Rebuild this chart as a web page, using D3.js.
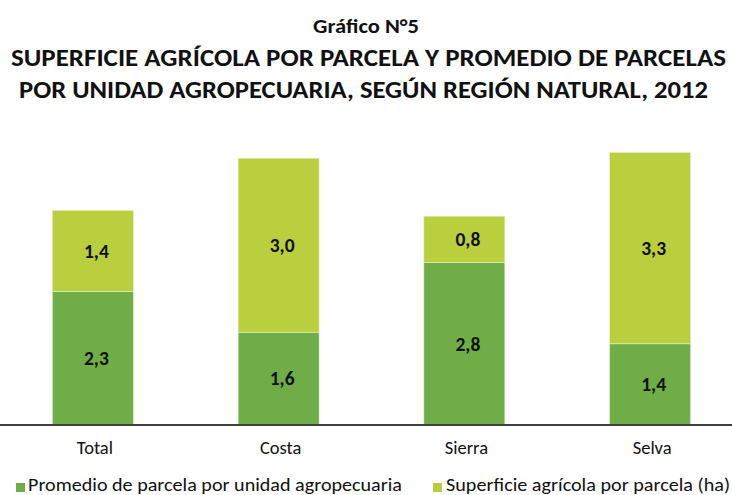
<!DOCTYPE html>
<html><head><meta charset="utf-8">
<script src="https://cdn.jsdelivr.net/npm/d3@7"></script>
<style>body{margin:0;background:#fff}svg{display:block}text{font-family:Carlito,Calibri,Lato,"Open Sans",sans-serif}</style>
</head><body><svg id="c" width="732" height="495"></svg>
<script>
const categories = ["Total","Costa","Sierra","Selva"];
const promedio = [2.3,1.6,2.8,1.4];
const superficie = [1.4,3.0,0.8,3.3];
const seriesNames = ["Promedio de parcela por unidad agropecuaria","Superficie agrícola por parcela (ha)"];
const titleLines = ["Gráfico N°5","SUPERFICIE AGRÍCOLA POR PARCELA Y PROMEDIO DE PARCELAS","POR UNIDAD AGROPECUARIA, SEGÚN REGIÓN NATURAL, 2012"];
const colors = ["#70AD47","#B9CF3D"];

const svg = d3.select("#c");
const baseY = 425;
const x = d3.scaleBand().domain(categories).range([0,743]).paddingInner(0.564).paddingOuter(0.282);
const y = d3.scaleLinear().domain([0,5]).range([baseY, baseY-290]);

const rows = categories.map((c,i)=>({cat:c, promedio:promedio[i], superficie:superficie[i]}));
const stack = d3.stack().keys(["promedio","superficie"])(rows);

const fmt = v => d3.format(".1f")(v).replace(".",",");

stack.forEach((layer,li)=>{
  const g = svg.append("g");
  g.selectAll("rect").data(layer).join("rect")
    .attr("x", d=>x(d.data.cat))
    .attr("width", x.bandwidth())
    .attr("y", d=>y(d[1]))
    .attr("height", d=>y(d[0])-y(d[1]))
    .attr("fill", colors[li])
    .attr("stroke","#e8f0d8").attr("stroke-width",0.6);
  g.selectAll("text").data(layer).join("text")
    .attr("x", d=>x(d.data.cat)+x.bandwidth()/2+3.5)
    .attr("y", d=>(y(d[0])+y(d[1]))/2)
    .attr("dy","0.35em")
    .attr("text-anchor","middle")
    .attr("font-weight","bold").attr("font-size",19.5).attr("fill","#111")
    .text(d=>fmt(d[1]-d[0]));
});

// axis
const ax = svg.append("g").attr("transform",`translate(0,${baseY})`).call(d3.axisBottom(x).tickSize(0).tickPadding(16));
ax.select(".domain").attr("stroke","#404040").attr("stroke-width",2).attr("d","M0,0H732");
ax.selectAll(".tick text").attr("font-size",18.5).attr("fill","#111").attr("font-family","Carlito,Calibri,Lato,sans-serif").attr("dx",2);

// title
svg.append("text").attr("x",366).attr("y",32.5).attr("text-anchor","middle").attr("font-weight","bold").attr("font-size",21).attr("fill","#111")
  .attr("textLength",106).attr("lengthAdjust","spacingAndGlyphs").text(titleLines[0]);
svg.append("text").attr("x",11).attr("y",65.5).attr("font-weight","bold").attr("font-size",24.5).attr("fill","#111")
  .attr("textLength",715).attr("lengthAdjust","spacingAndGlyphs").text(titleLines[1]);
svg.append("text").attr("x",19).attr("y",97.5).attr("font-weight","bold").attr("font-size",24.5).attr("fill","#111")
  .attr("textLength",689).attr("lengthAdjust","spacingAndGlyphs").text(titleLines[2]);

// legend
const leg = [{x:16, tx:28, w:374},{x:433, tx:446, w:284}];
leg.forEach((l,i)=>{
  svg.append("rect").attr("x",l.x).attr("y",483).attr("width",9).attr("height",9).attr("fill",colors[i]);
  svg.append("text").attr("x",l.tx).attr("y",491).attr("font-size",17.5).attr("fill","#111")
    .attr("textLength",l.w).attr("lengthAdjust","spacingAndGlyphs").text(seriesNames[i]);
});
</script></body></html>
